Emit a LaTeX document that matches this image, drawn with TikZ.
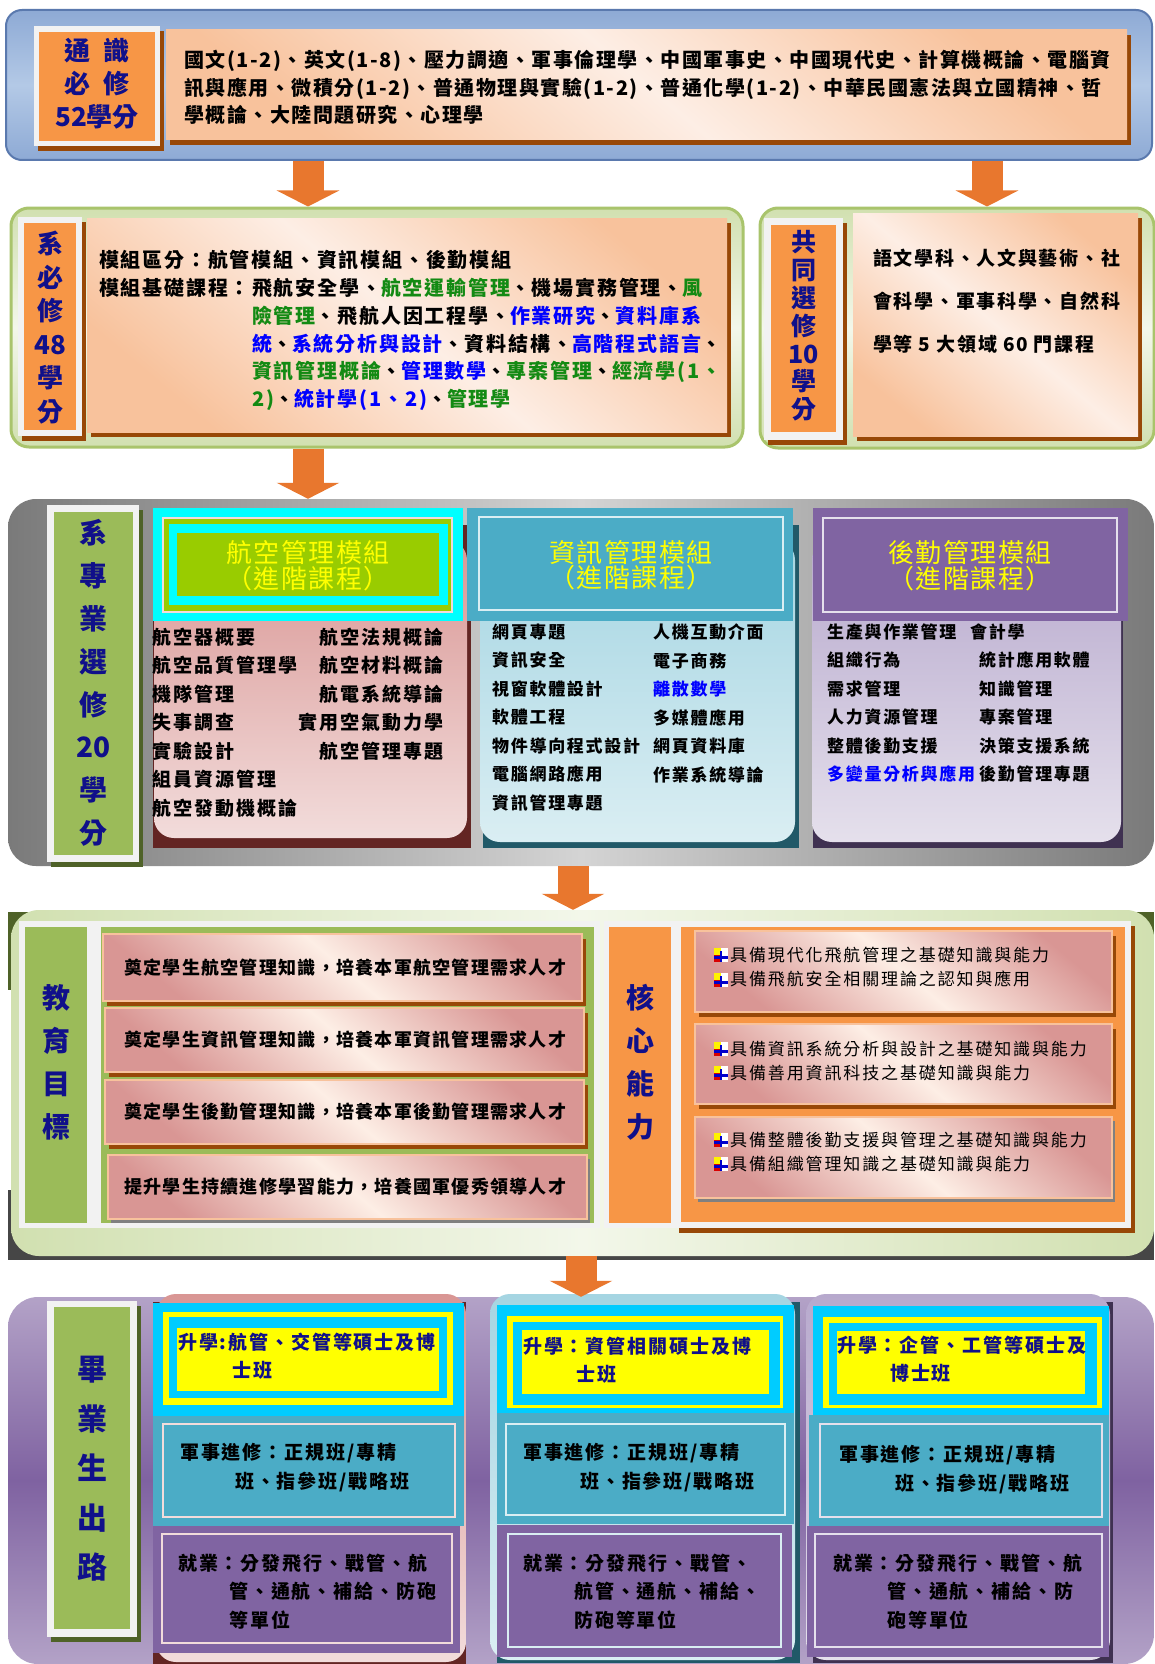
\documentclass[tikz,border=0pt]{standalone}
\usepackage{fontspec}
\setmainfont{Noto Sans CJK TC}
\usetikzlibrary{arrows.meta,positioning,fit,shadows}
\newcommand\setfs[2]{\fontsize{#1}{#2}\selectfont}
\newcommand\lsp[1]{\addfontfeatures{LetterSpace=#1}}
\definecolor{tsblue}{HTML}{8EAAD5}
\definecolor{tsbluelt}{HTML}{B3C9E6}
\definecolor{tsbdr}{HTML}{5A79AE}
\definecolor{lblorange}{HTML}{F79646}
\definecolor{shbrown}{HTML}{984807}
\definecolor{txtnavy}{HTML}{10108A}
\definecolor{frmwh}{HTML}{F2F2F2}
\definecolor{pchdk}{HTML}{F8C29C}
\definecolor{pchlt}{HTML}{FDEEE5}
\definecolor{grnrim}{HTML}{A9C46C}
\definecolor{grnlt}{HTML}{D1E0B0}
\definecolor{grnwh}{HTML}{F3F7EA}
\definecolor{graydk}{HTML}{7A7A7A}
\definecolor{graylt}{HTML}{D4D4D4}
\definecolor{grnbd}{HTML}{9BBB59}
\definecolor{olivedk}{HTML}{4F6228}
\definecolor{avaqua}{HTML}{00FFFF}
\definecolor{avlime}{HTML}{99CC00}
\definecolor{avred}{HTML}{632523}
\definecolor{pinkdk}{HTML}{D99694}
\definecolor{pinklt}{HTML}{F2DCDB}
\definecolor{infoteal}{HTML}{4BACC6}
\definecolor{infodk}{HTML}{215968}
\definecolor{infolt}{HTML}{DAEEF3}
\definecolor{infomid}{HTML}{A5D5E2}
\definecolor{logpurp}{HTML}{8064A2}
\definecolor{logdk}{HTML}{3F3151}
\definecolor{loglt}{HTML}{E5E0EC}
\definecolor{logmid}{HTML}{B7A9CD}
\definecolor{purlt}{HTML}{B3A2C7}
\definecolor{purdk}{HTML}{7F62A1}
\definecolor{skycyan}{HTML}{00CCFF}
\definecolor{ylw}{HTML}{FFFF00}
\definecolor{crsgreen}{HTML}{138A13}
\definecolor{crsblue}{HTML}{0000FF}
\definecolor{arrorange}{HTML}{E8772E}
\newcommand\grn[1]{\textcolor{crsgreen}{#1}}
\newcommand\blu[1]{\textcolor{crsblue}{#1}}

\begin{document}
\begin{tikzpicture}[x=1pt,y=-1pt,
every node/.style={inner sep=0pt},
bandB/.style={rounded corners=16pt,draw=tsbdr,line width=2pt,top color=tsblue,bottom color=tsblue,middle color=tsbluelt},
bandG/.style={rounded corners=18pt,draw=grnrim,line width=3pt,top color=grnlt,bottom color=grnlt,middle color=grnwh},
bandK/.style={rounded corners=28pt,left color=graydk,right color=graydk,middle color=graylt},
bandL/.style={rounded corners=28pt,left color=grnlt,right color=grnlt,middle color=grnwh},
bandP/.style={rounded corners=30pt,top color=purlt,bottom color=purlt,middle color=purdk},
wfrm/.style={fill=frmwh},
shb/.style={drop shadow={shadow xshift=4pt,shadow yshift=-5pt,fill=shbrown,opacity=1}},
sho/.style={drop shadow={shadow xshift=4pt,shadow yshift=-5pt,fill=olivedk,opacity=1}},
shg/.style={drop shadow={shadow xshift=3pt,shadow yshift=-4pt,fill=gray,opacity=1}},
lblo/.style={fill=lblorange},
lblg/.style={fill=grnbd},
lbltx/.style={text=txtnavy,align=center},
pch/.style={top color=pchdk,bottom color=pchdk,middle color=pchlt,shading angle=-40},
pnk/.style={top color=pinkdk,bottom color=pinkdk,middle color=pchlt,shading angle=-40,draw=pchdk,line width=1.5pt},
body/.style={rounded corners=20pt,shading angle=135},
ttl/.style={text=ylw,align=center,font=\setfs{26}{24}\lsp{6}},
txt/.style={anchor=north west,align=left},
crs/.style={txt,font=\bfseries\setfs{19}{28.5}\lsp{11}},
crsr/.style={anchor=north east,align=right,font=\bfseries\setfs{19}{28.5}\lsp{11}},
crss/.style={txt,font=\bfseries\setfs{17}{28.5}\lsp{10}},
gtx/.style={anchor=west,font=\bfseries\setfs{18}{22}\lsp{7}},
ctx/.style={txt,font=\setfs{17}{24.5}\lsp{11}},
job/.style={txt,font=\bfseries\setfs{19}{28.5}\lsp{10}},
bigarr/.style={-{Triangle[length=16pt,width=62pt]},line width=31pt,draw=arrorange},
bul/.pic={
\fill[white] (0,-7) rectangle (7,7);
\fill[yellow] (-7,-7) rectangle (0,0);
\fill[red!85!black] (-7,0) rectangle (0,7);
\fill[blue!80!black] (-7,1) rectangle (7,3.5);
\fill[blue!80!black] (-1.5,-4) rectangle (1,7);}
]
\useasboundingbox (0,0) rectangle (1155,1664);
\fill[white] (0,0) rectangle (1155,1664);

\node[bandB,fit={(6,10) (1152,160)}] (ts) {};
\node[wfrm,shb,fit={(34,26) (160,146)}] (tsf) {};
\node[lblo,fit={(39,32) (155,141)}] (tslbl) {};
\node[lbltx,font=\bfseries\setfs{26}{33}] (tslbltx) at (97,84) {通\hspace{.5em}識\\必\hspace{.5em}修\\52學分};
\node[pch,shb,fit={(166,30) (1127,140)}] (tsbox) {};
\node[txt,font=\bfseries\setfs{20}{27.5}\lsp{7.5}] (tscrs) at (184,50)
{國文(1-2)、英文(1-8)、壓力調適、軍事倫理學、中國軍事史、中國現代史、計算機概論、電腦資\\
訊與應用、微積分(1-2)、普通物理與實驗(1-2)、普通化學(1-2)、中華民國憲法與立國精神、哲\\
學概論、大陸問題研究、心理學};

\node[bandG,fit={(11,208) (743,447)}] (dept) {};
\node[wfrm,shb,fit={(18,217) (82,436)}] (deptf) {};
\node[lblo,fit={(24,223) (76,430)}] (deptlbl) {};
\node[lbltx,font=\bfseries\setfs{26}{33.5}] (deptlbltx) at (50,327.5) {系\\必\\修\\48\\學\\分};
\node[pch,shb,fit={(87,218) (727,432)}] (deptbox) {};
\node[txt,font=\bfseries\setfs{20}{27.8}\lsp{9}] (deptmod) at (99,250) {模組區分：航管模組、資訊模組、後勤模組\\模組基礎課程：};
\node[txt,font=\bfseries\setfs{20}{27.8}\lsp{9}] (deptcrs) at (252,278)
{飛航安全學、\grn{航空運輸管理}、機場實務管理、\grn{風}\\
\grn{險管理}、飛航人因工程學、\blu{作業研究}、\blu{資料庫系}\\
\blu{統}、\blu{系統分析與設計}、資料結構、\blu{高階程式語言}、\\
\grn{資訊管理概論}、\blu{管理數學}、\grn{專案管理}、\grn{經濟學(1、}\\
\grn{2)}、\blu{統計學(1、2)}、\grn{管理學}};

\node[bandG,fit={(760,208) (1154,448)}] (elec) {};
\node[wfrm,shb,fit={(764,218) (843,440)}] (elecf) {};
\node[lblo,fit={(771,225) (836,432)}] (eleclbl) {};
\node[lbltx,font=\bfseries\setfs{25}{27.8}] (eleclbltx) at (803.5,326) {共\\同\\選\\修\\10\\學\\分};
\node[pch,shb,fit={(853,213) (1138,436)}] (elecbox) {};
\node[txt,font=\bfseries\setfs{19}{43}\lsp{9}] (eleccrs) at (873,248.5) {語文學科、人文與藝術、社\\會科學、軍事科學、自然科\\學等 5 大領域 60 門課程};

\node[bandK,fit={(8,499) (1154,866)}] (prof) {};
\node[wfrm,sho,fit={(47,505) (139,862)}] (proff) {};
\node[lblg,fit={(54,512) (133,855)}] (proflbl) {};
\node[lbltx,font=\bfseries\setfs{28}{42.8}] (proflbltx) at (93.5,683) {系\\專\\業\\選\\修\\20\\學\\分};

\node[fill=avred,fit={(153,525) (471,848)}] (avbg) {};
\node[body,top color=pinkdk,bottom color=pinklt,fit={(154,540) (467,838)}] (avbody) {};
\node[fill=avaqua,fit={(153,508) (463,621)}] (avhd) {};
\node[fill=avlime,draw=pinklt,line width=1.5pt,fit={(163,518) (452,612)}] (avhd2) {};
\node[fill=avaqua,fit={(169,524) (448,605)}] (avhd3) {};
\node[fill=avlime,fit={(177,533) (439,596)}] (avhd4) {};
\node[ttl] (avttl) at (308,565.5) {航空管理模組\\（進階課程）};
\node[crs] (avl) at (152,627.5) {航空器概要\\航空品質管理學\\機隊管理\\失事調查\\實驗設計\\組員資源管理\\航空發動機概論};
\node[crsr] (avr) at (444,627.5) {航空法規概論\\航空材料概論\\航電系統導論\\實用空氣動力學\\航空管理專題};

\node[fill=infodk,fit={(483,525) (799,848)}] (infbg) {};
\node[body,top color=infomid,bottom color=infolt,fit={(480,540) (795,842)}] (infbody) {};
\node[fill=infoteal,fit={(467,508) (793,621)}] (infhd) {};
\node[fill=infoteal,draw=infolt,line width=2pt,fit={(479,517) (783,610)}] (infhd2) {};
\node[ttl] (infttl) at (631,565.5) {資訊管理模組\\（進階課程）};
\node[crss] (infl) at (492,623.5) {網頁專題\\資訊安全\\視窗軟體設計\\軟體工程\\物件導向程式設計\\電腦網路應用\\資訊管理專題};
\node[crss] (infr) at (653,623.5) {人機互動介面\\電子商務\\\blu{離散數學}\\多媒體應用\\網頁資料庫\\作業系統導論};

\node[fill=logdk,fit={(813,525) (1123,848)}] (logbg) {};
\node[body,top color=logmid,bottom color=loglt,fit={(812,540) (1121,842)}] (logbody) {};
\node[fill=logpurp,fit={(813,508) (1128,621)}] (loghd) {};
\node[fill=logpurp,draw=loglt,line width=2pt,fit={(823,518) (1117,612)}] (loghd2) {};
\node[ttl] (logttl) at (970,565.5) {後勤管理模組\\（進階課程）};
\node[crss] (logl) at (827,623.5) {生產與作業管理\\組織行為\\需求管理\\人力資源管理\\整體後勤支援\\\blu{多變量分析與應用}};
\node[crss] (logr) at (979,623.5) {\hspace*{-9pt}會計學\\統計應用軟體\\知識管理\\專案管理\\決策支援系統\\後勤管理專題};

\node[fill=olivedk,fit={(8,912) (1154,990)}] (goalsh) {};
\node[fill=gray!55!black,fit={(8,1190) (1154,1260)}] (goalsh2) {};
\node[bandL,fit={(11,910) (1154,1256)}] (goal) {};
\node[wfrm,fit={(19,921) (93,1228)}] (goalf) {};
\node[lblg,fit={(25,927) (87,1223)}] (goallbl) {};
\node[lbltx,font=\bfseries\setfs{28}{43}] (goaltx) at (56,1062) {教\\育\\目\\標};
\node[wfrm,fit={(93,921) (600,1228)}] (goalpf) {};
\node[fill=grnbd,fit={(101,927) (594,1223)}] (goalp) {};
\node[pnk,shb,fit={(103,934) (582,1001)}] (g1) {};
\node[pnk,shb,fit={(105,1008) (584,1072)}] (g2) {};
\node[pnk,shb,fit={(105,1080) (584,1144)}] (g3) {};
\node[pnk,shg,fit={(108,1155) (587,1219)}] (g4) {};
\node[gtx] (g1t) at ([xshift=22pt]g1.west) {奠定學生航空管理知識，培養本軍航空管理需求人才};
\node[gtx] (g2t) at ([xshift=20pt]g2.west) {奠定學生資訊管理知識，培養本軍資訊管理需求人才};
\node[gtx] (g3t) at ([xshift=20pt]g3.west) {奠定學生後勤管理知識，培養本軍後勤管理需求人才};
\node[gtx] (g4t) at ([xshift=17pt]g4.west) {提升學生持續進修學習能力，培養國軍優秀領導人才};

\node[wfrm,fit={(604,921) (676,1228)}] (coref) {};
\node[lblo,fit={(609,927) (671,1223)}] (corelbl) {};
\node[lbltx,font=\bfseries\setfs{28}{43}] (coretx) at (640,1062) {核\\心\\能\\力};
\node[wfrm,shb,fit={(675,921) (1131,1228)}] (corepf) {};
\node[fill=lblorange,fit={(681,927) (1125,1222)}] (corep) {};
\node[pnk,shb,fit={(695,931) (1112,1012)}] (c1) {};
\node[pnk,shb,fit={(695,1024) (1112,1104)}] (c2) {};
\node[pnk,shg,fit={(695,1117) (1112,1198)}] (c3) {};
\foreach \y in {955,980,1049,1073,1140,1164} \pic at (721,\y) {bul};
\node[ctx] (c1t) at (730,946.5) {具備現代化飛航管理之基礎知識與能力\\具備飛航安全相關理論之認知與應用};
\node[ctx] (c2t) at (730,1040.5) {具備資訊系統分析與設計之基礎知識與能力\\具備善用資訊科技之基礎知識與能力};
\node[ctx] (c3t) at (730,1131.5) {具備整體後勤支援與管理之基礎知識與能力\\具備組織管理知識之基礎知識與能力};

\node[bandP,fit={(8,1297) (1154,1664)}] (grad) {};
\node[wfrm,sho,fit={(47,1301) (137,1637)}] (gradf) {};
\node[lblg,fit={(54,1307) (130,1629)}] (gradlbl) {};
\node[lbltx,font=\bfseries\setfs{30}{49.5}] (gradlbltx) at (92,1469) {畢\\業\\生\\出\\路};

\node[fill=avred,fit={(153,1302) (466,1664)}] (p1bg) {};
\node[body,top color=pinkdk,bottom color=pinklt,fit={(156,1294) (466,1662)}] (p1body) {};
\node[fill=skycyan,fit={(153,1303) (464,1416)}] (p1hd) {};
\node[fill=ylw,fit={(163,1312) (453,1405)}] (p1y) {};
\node[fill=skycyan,fit={(169,1317) (447,1398)}] (p1c) {};
\node[fill=ylw,fit={(177,1328) (439,1391)}] (p1yy) {};
\node[job,text=txtnavy] (p1st) at (178,1332.5) {升學:航管、交管等碩士及博\\\hspace*{54pt}士班};
\node[fill=infoteal,fit={(153,1416) (464,1526)}] (p1m) {};
\node[draw=pinklt,line width=2pt,fit={(163,1424) (455,1517)}] (p1mb) {};
\node[job] (p1mt) at (180,1443.5) {軍事進修：正規班/專精\\\hspace*{55pt}班、指參班/戰略班};
\node[fill=logpurp,fit={(153,1526) (460,1653)}] (p1w) {};
\node[draw=pinklt,line width=2pt,fit={(162,1534) (452,1643)}] (p1wb) {};
\node[job] (p1wt) at (178,1553.5) {就業：分發飛行、戰管、航\\\hspace*{51pt}管、通航、補給、防砲\\\hspace*{51pt}等單位};

\node[fill=infodk,fit={(497,1302) (800,1663)}] (p2bg) {};
\node[body,top color=infomid,bottom color=infolt,fit={(490,1294) (795,1660)}] (p2body) {};
\node[fill=skycyan,fit={(497,1305) (794,1413)}] (p2hd) {};
\node[fill=ylw,fit={(507,1316) (783,1408)}] (p2y) {};
\node[fill=skycyan,fit={(513,1322) (780,1405)}] (p2c) {};
\node[fill=ylw,fit={(522,1330) (769,1394)}] (p2yy) {};
\node[job,text=txtnavy] (p2st) at (523,1336.5) {升學：資管相關碩士及博\\\hspace*{53pt}士班};
\node[fill=infoteal,fit={(497,1413) (794,1524)}] (p2m) {};
\node[draw=infolt,line width=2pt,fit={(506,1424) (785,1515)}] (p2mb) {};
\node[job] (p2mt) at (523,1443.5) {軍事進修：正規班/專精\\\hspace*{57pt}班、指參班/戰略班};
\node[fill=logpurp,fit={(497,1525) (792,1657)}] (p2w) {};
\node[draw=infolt,line width=2pt,fit={(508,1534) (781,1647)}] (p2wb) {};
\node[job] (p2wt) at (523,1553.5) {就業：分發飛行、戰管、\\\hspace*{51pt}航管、通航、補給、\\\hspace*{51pt}防砲等單位};

\node[fill=logdk,fit={(813,1302) (1113,1663)}] (p3bg) {};
\node[body,top color=logmid,bottom color=loglt,fit={(806,1294) (1110,1660)}] (p3body) {};
\node[fill=skycyan,fit={(813,1306) (1109,1415)}] (p3hd) {};
\node[fill=ylw,fit={(823,1317) (1102,1408)}] (p3y) {};
\node[fill=skycyan,fit={(829,1323) (1097,1405)}] (p3c) {};
\node[fill=ylw,fit={(837,1331) (1085,1394)}] (p3yy) {};
\node[job,text=txtnavy] (p3st) at (837,1335.5) {升學：企管、工管等碩士及\\\hspace*{53pt}博士班};
\node[fill=infoteal,fit={(809,1415) (1109,1526)}] (p3m) {};
\node[draw=loglt,line width=2pt,fit={(820,1424) (1102,1517)}] (p3mb) {};
\node[job] (p3mt) at (839,1445.5) {軍事進修：正規班/專精\\\hspace*{56pt}班、指參班/戰略班};
\node[fill=logpurp,fit={(807,1526) (1109,1657)}] (p3w) {};
\node[draw=loglt,line width=2pt,fit={(815,1534) (1102,1647)}] (p3wb) {};
\node[job] (p3wt) at (833,1553.5) {就業：分發飛行、戰管、航\\\hspace*{54pt}管、通航、補給、防\\\hspace*{54pt}砲等單位};

\coordinate (ax1) at (308,0);
\coordinate (ax2) at (987,0);
\coordinate (ax3) at (573,0);
\coordinate (ax4) at (581,0);
\draw[bigarr] (ts.south -| ax1) -- (dept.north -| ax1);
\draw[bigarr] (ts.south -| ax2) -- (elec.north -| ax2);
\draw[bigarr] (dept.south -| ax1) -- (prof.north -| ax1);
\draw[bigarr] (prof.south -| ax3) -- (goal.north -| ax3);
\draw[bigarr] (goal.south -| ax4) -- (grad.north -| ax4);
\end{tikzpicture}
\end{document}
